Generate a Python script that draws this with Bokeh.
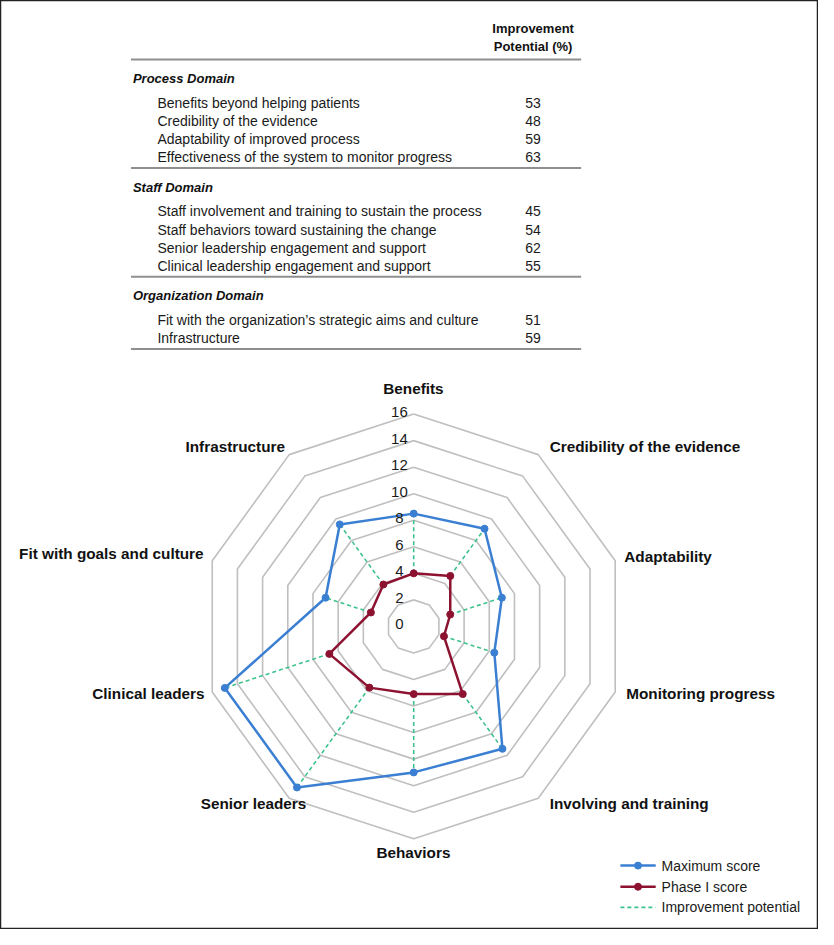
import numpy as np
from bokeh.plotting import figure
from bokeh.models import Range1d
from bokeh.core.properties import value
from bokeh.embed import file_html
from bokeh.resources import INLINE

# ---------------- data ----------------
axis_labels = ["Benefits", "Credibility of the evidence", "Adaptability",
               "Monitoring progress", "Involving and training", "Behaviors",
               "Senior leaders", "Clinical leaders", "Fit with goals and culture",
               "Infrastructure"]
max_score = [8.5, 9.1, 7.0, 6.4, 11.4, 11.0, 15.0, 15.0, 7.0, 9.5]
phase1_score = [4.0, 4.7, 2.9, 2.4, 6.3, 5.1, 5.7, 6.7, 3.4, 3.9]
ring_levels = [2, 4, 6, 8, 10, 12, 14, 16]
tick_values = [0, 2, 4, 6, 8, 10, 12, 14, 16]
tick_labels = ["0", "2", "4", "6", "8", "10", "12", "14", "16"]

table_header = ["Improvement", "Potential (%)"]
domains = ["Process Domain", "Staff Domain", "Organization Domain"]
process_items = ["Benefits beyond helping patients", "Credibility of the evidence",
                 "Adaptability of improved process",
                 "Effectiveness of the system to monitor progress"]
process_values = [53, 48, 59, 63]
staff_items = ["Staff involvement and training to sustain the process",
               "Staff behaviors toward sustaining the change",
               "Senior leadership engagement and support",
               "Clinical leadership engagement and support"]
staff_values = [45, 54, 62, 55]
org_items = ["Fit with the organization\u2019s strategic aims and culture",
             "Infrastructure"]
org_values = [51, 59]

legend_labels = ["Maximum score", "Phase I score", "Improvement potential"]

# ---------------- style / layout ----------------
FONT = value("Liberation Sans")
BLUE = "#3a7fd2"
RED = "#8c1230"
GREEN = "#3cc28c"
RING = "#bfbfbf"
RULE = "#8f8f8f"

W, H = 818, 929
p = figure(width=W, height=H, x_range=Range1d(0, 834), y_range=Range1d(945, 0),
           output_backend="svg", toolbar_location=None, min_border=0,
           x_axis_location=None, y_axis_location=None)
p.grid.visible = False
p.outline_line_color = "#222222"
p.outline_line_width = 1.5
p.background_fill_color = "white"
p.border_fill_color = "white"

# ---------------- table ----------------
col_x = 543
p.text(x=[col_x, col_x], y=[28.3, 46.7], text=table_header, text_font=FONT,
       text_font_style="bold", text_font_size="13px", text_align="center",
       text_baseline="alphabetic", text_color="#111111")

rule_x0, rule_x1 = 133, 592
rules = [60]
y_line = 60
groups = [process_items, staff_items, org_items]
gvals = [process_values, staff_values, org_values]
dom_x, item_x = 135, 160
dom_y, it_y, it_v, it_t = [], [], [], []
for dname, items, vals in zip(domains, groups, gvals):
    yd = y_line + 19.5
    dom_y.append(yd)
    y = yd + 24.5
    for it, v in zip(items, vals):
        it_y.append(y)
        it_t.append(it)
        it_v.append(str(v))
        y += 18.5
    y_line = y - 18.5 + 11
    rules.append(y_line)

p.segment(x0=[rule_x0] * len(rules), x1=[rule_x1] * len(rules), y0=rules, y1=rules,
          line_color=RULE, line_width=2)
p.text(x=[dom_x] * len(dom_y), y=dom_y, text=domains, text_font=FONT,
       text_font_style="bold italic", text_font_size="13px", text_baseline="alphabetic",
       text_color="#111111")
p.text(x=[item_x] * len(it_y), y=it_y, text=it_t, text_font=FONT,
       text_font_size="14px", text_baseline="alphabetic", text_color="#1a1a1a")
p.text(x=[col_x] * len(it_y), y=it_y, text=it_v, text_font=FONT,
       text_font_size="14px", text_baseline="alphabetic", text_align="center",
       text_color="#1a1a1a")

# ---------------- radar ----------------
cx, cy, k = 421.3, 636.7, 13.5
n = len(axis_labels)
theta = np.arange(n) * 2 * np.pi / n


def to_xy(vals):
    v = np.asarray(vals, dtype=float)
    return cx + v * k * np.sin(theta), cy - v * k * np.cos(theta)


ring_xs, ring_ys = [], []
for lv in ring_levels:
    rx, ry = to_xy([lv] * n)
    ring_xs.append(list(rx) + [rx[0]])
    ring_ys.append(list(ry) + [ry[0]])
p.multi_line(xs=ring_xs, ys=ring_ys, line_color=RING, line_width=1.6)

bx, by = to_xy(max_score)
rx_, ry_ = to_xy(phase1_score)

p.segment(x0=rx_, y0=ry_, x1=bx, y1=by, line_color=GREEN, line_width=1.6, line_dash="4 3")

p.line(x=list(bx) + [bx[0]], y=list(by) + [by[0]], line_color=BLUE, line_width=2.5)
p.scatter(x=bx, y=by, size=7, fill_color=BLUE, line_color=BLUE)
p.line(x=list(rx_) + [rx_[0]], y=list(ry_) + [ry_[0]], line_color=RED, line_width=2.5)
p.scatter(x=rx_, y=ry_, size=7, fill_color=RED, line_color=RED)

# tick labels
tv = np.asarray(tick_values, dtype=float)
p.text(x=[cx - 14.6] * len(tv), y=list(cy - tv * k - 2), text=tick_labels, text_font=FONT,
       text_font_size="15px", text_align="center", text_baseline="middle",
       text_color="#1a1a1a")

# axis labels (layout positions)
label_pos = [(421, 395, "center"), (560, 454, "left"), (636, 566, "left"),
             (638, 705, "left"), (560, 817, "left"), (421, 867, "center"),
             (311.7, 817, "right"), (208, 705, "right"), (207, 563, "right"),
             (290, 454, "right")]
for align in ["left", "center", "right"]:
    idx = [i for i, lp in enumerate(label_pos) if lp[2] == align]
    p.text(x=[label_pos[i][0] for i in idx], y=[label_pos[i][1] for i in idx],
           text=[axis_labels[i] for i in idx], text_font=FONT, text_font_style="bold",
           text_font_size="15.3px", text_align=align, text_baseline="middle",
           text_color="#111111")

# ---------------- legend ----------------
lg_y = [880, 901.5, 922.5]
lx0, lx1, ltx = 632, 668, 674
p.segment(x0=[lx0], x1=[lx1], y0=[lg_y[0]], y1=[lg_y[0]], line_color=BLUE, line_width=2.5)
p.scatter(x=[(lx0 + lx1) / 2], y=[lg_y[0]], size=7, fill_color=BLUE, line_color=BLUE)
p.segment(x0=[lx0], x1=[lx1], y0=[lg_y[1]], y1=[lg_y[1]], line_color=RED, line_width=2.5)
p.scatter(x=[(lx0 + lx1) / 2], y=[lg_y[1]], size=7, fill_color=RED, line_color=RED)
p.segment(x0=[lx0], x1=[lx1], y0=[lg_y[2]], y1=[lg_y[2]], line_color=GREEN, line_width=1.6,
          line_dash="4 3")
p.text(x=[ltx] * 3, y=lg_y, text=legend_labels, text_font=FONT, text_font_size="14px",
       text_baseline="middle", text_color="#1a1a1a")

open("out.html", "w").write(file_html(p, INLINE))
